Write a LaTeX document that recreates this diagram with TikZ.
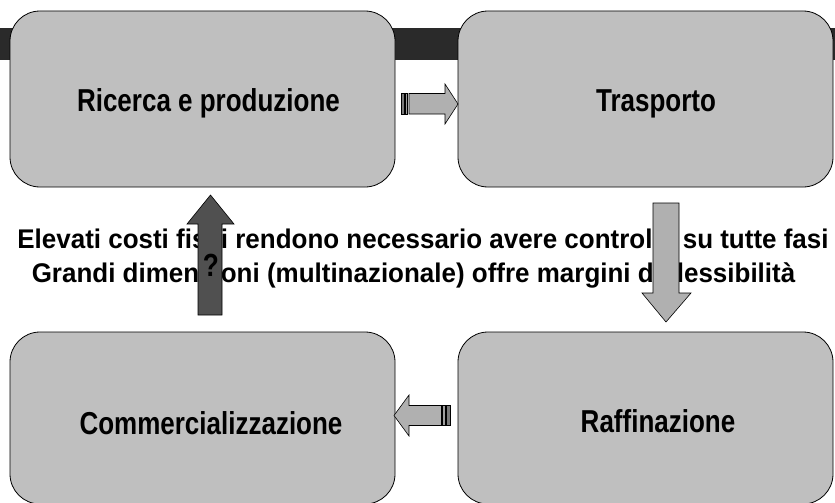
\documentclass[tikz,border=0pt]{standalone}
\usepackage{fontspec}
\usepackage{graphicx}
\setmainfont{Liberation Sans}
\definecolor{boxgray}{HTML}{BFBFBF}
\definecolor{bardark}{HTML}{2A2A2A}
\definecolor{arrowgray}{HTML}{B0B0B0}
\definecolor{arrowdark}{HTML}{505050}
\definecolor{stripedark}{HTML}{7A7A7A}
\definecolor{stripelight}{HTML}{A0A0A0}
\begin{document}
\begin{tikzpicture}[x=1pt,y=-1pt,
  box/.style={draw=black, line width=0.8pt, fill=boxgray, rounded corners=30pt, inner sep=0pt},
  lbl/.style={anchor=base, inner sep=0pt, font=\fontsize{31.7}{36}\selectfont\bfseries},
  mid/.style={anchor=base, inner sep=0pt, font=\fontsize{27}{31}\selectfont\bfseries},
  blockarrow/.style={draw=black, line width=0.6pt, line join=miter},
  stripe/.style={draw=black, line width=0.4pt}]
\useasboundingbox (0,0) rectangle (835,503);
% dark bar behind the top boxes
\fill[bardark] (0,28) rectangle (835,60);
% boxes
\node[box, minimum width=385pt, minimum height=176pt] (b1) at (202.5,99) {};
\node[box, minimum width=375pt, minimum height=176pt] (b2) at (645.5,99) {};
\node[box, minimum width=385pt, minimum height=172pt] (b3) at (202.5,418) {};
\node[box, minimum width=375pt, minimum height=172pt] (b4) at (645.5,418) {};
% box labels
\node[lbl] (t1) at (208.5,111.5) {\scalebox{0.82}[1]{Ricerca e produzione}};
\node[lbl] (t2) at (656,111.5) {\scalebox{0.82}[1]{Trasporto}};
\node[lbl] (t3) at (211,434) {\scalebox{0.82}[1]{Commercializzazione}};
\node[lbl] (t4) at (658,432) {\scalebox{0.82}[1]{Raffinazione}};
% middle text
\node[mid] (m1) at (423,248) {\scalebox{0.962}[1]{Elevati costi fissi rendono necessario avere controllo su tutte fasi}};
\node[mid] (m2) at (413.5,282) {\scalebox{0.962}[1]{Grandi dimensioni (multinazionale) offre margini di flessibilità}};
% right striped arrow (top)
\filldraw[stripe, fill=stripedark] (401.5,93.5) rectangle (404,114);
\filldraw[stripe, fill=stripelight] (405,93.5) rectangle (407.5,114);
\filldraw[blockarrow, fill=arrowgray] (409,93.5) -- (445,93.5) -- (445,84) -- (458,104) -- (445,124) -- (445,114) -- (409,114) -- cycle;
% down arrow
\filldraw[blockarrow, fill=arrowgray] (653,203) -- (679,203) -- (679,293) -- (691,293) -- (666,322) -- (642,293) -- (653,293) -- cycle;
% left striped arrow (bottom)
\filldraw[blockarrow, fill=arrowgray] (441.5,405.5) -- (409,405.5) -- (409,395) -- (394,415.5) -- (409,436) -- (409,425.5) -- (441.5,425.5) -- cycle;
\filldraw[stripe, fill=stripelight] (442.5,405.5) rectangle (445,425.5);
\filldraw[stripe, fill=stripedark] (446,405.5) rectangle (450.5,425.5);
% up arrow
\filldraw[blockarrow, fill=arrowdark] (198,315) -- (198,224) -- (187,224) -- (210.5,195) -- (234,224) -- (222,224) -- (222,315) -- cycle;
\node[lbl, font=\fontsize{32}{36}\selectfont\bfseries] (q) at (211,276) {\scalebox{0.82}[1]{?}};
\end{tikzpicture}
\end{document}
